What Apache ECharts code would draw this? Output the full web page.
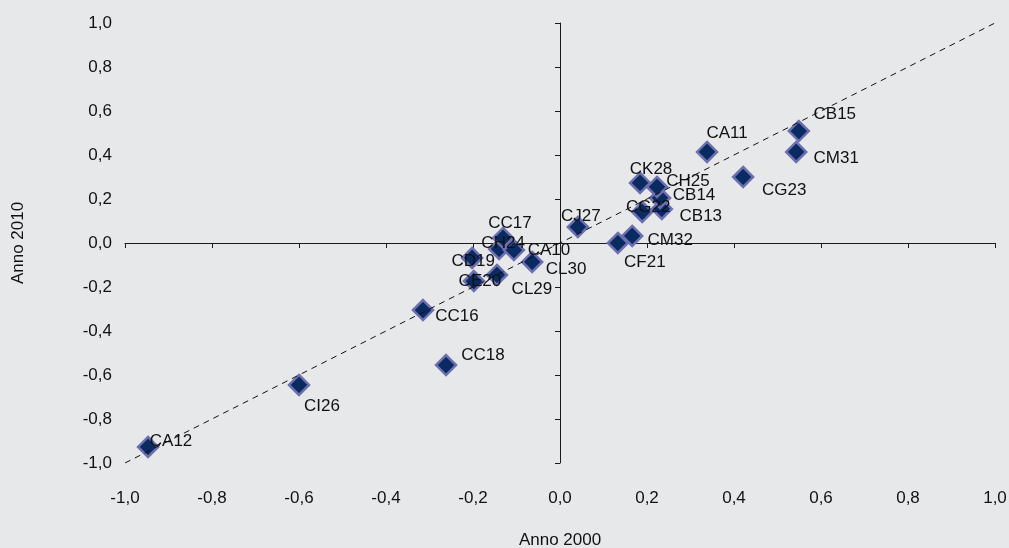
<!DOCTYPE html>
<html>
<head>
<meta charset="utf-8">
<script src="https://cdn.jsdelivr.net/npm/echarts@6/dist/echarts.min.js"></script>
<style>
html,body{margin:0;padding:0;background:#e7e8ea;}
#c{width:1009px;height:548px;}
</style>
</head>
<body>
<div id="c"></div>
<script>
// ---- data ----
const pointNames = ['CA12','CI26','CC16','CC18','CE20','CD19','CH24','CC17','CA10','CL30','CL29','CJ27','CF21','CM32','CG22','CB13','CB14','CH25','CK28','CA11','CG23','CB15','CM31'];
const anno2000 = [-0.947,-0.600,-0.315,-0.262,-0.198,-0.202,-0.140,-0.131,-0.106,-0.064,-0.145,0.041,0.133,0.166,0.189,0.234,0.230,0.223,0.184,0.338,0.421,0.549,0.543];
const anno2010 = [-0.927,-0.645,-0.305,-0.555,-0.173,-0.068,-0.027,0.023,-0.032,-0.086,-0.145,0.073,0.000,0.032,0.141,0.155,0.205,0.255,0.273,0.414,0.300,0.509,0.414];
const diagonalX = [-1, 1];
const diagonalY = [-1, 1];
const axisMin = -1, axisMax = 1, axisStep = 0.2;
const xAxisTitle = 'Anno 2000';
const yAxisTitle = 'Anno 2010';

// label placement (pixel offsets of each label's centre from its marker)
const labelOffsets = [[23,-6],[23,21],[34,6],[37,-10],[6,0],[1,3],[4,-6],[7,-15],[35,0],[34,7],[35,14],[3,-11],[27,19],[38,4],[6,-5],[39,7],[34,-3],[31,-6],[11,-14],[20,-19],[41,13],[36,-17],[40,6]];

const fmt = v => v.toFixed(1).replace('.', ',');
const font = 'Liberation Sans, Arial, sans-serif';
const fs = 17;

const chart = echarts.init(document.getElementById('c'), null, {renderer:'canvas'});
chart.setOption({
  backgroundColor: '#e7e8ea',
  animation: false,
  textStyle: {fontFamily: font},
  grid: {left:125, right:14, top:23, bottom:85, containLabel:false, outerBoundsMode:'none'},
  xAxis: [
    {type:'value', min:axisMin, max:axisMax, interval:axisStep, position:'bottom',
     axisLine:{show:true, onZero:true, lineStyle:{color:'#1a1a1a', width:1}},
     axisTick:{show:true, inside:false, length:5, lineStyle:{color:'#1a1a1a'}},
     axisLabel:{show:false}, splitLine:{show:false}},
    {type:'value', min:axisMin, max:axisMax, interval:axisStep, position:'bottom',
     axisLine:{show:false, onZero:false}, axisTick:{show:false}, splitLine:{show:false},
     axisLabel:{show:true, margin:27, formatter:fmt, color:'#111', fontSize:fs, fontFamily:font},
     name:xAxisTitle, nameLocation:'middle', nameGap:69,
     nameTextStyle:{color:'#111', fontSize:fs, fontFamily:font}}
  ],
  yAxis: [
    {type:'value', min:axisMin, max:axisMax, interval:axisStep, position:'left',
     axisLine:{show:true, onZero:true, lineStyle:{color:'#1a1a1a', width:1}},
     axisTick:{show:true, inside:false, length:5, lineStyle:{color:'#1a1a1a'}},
     axisLabel:{show:false}, splitLine:{show:false}},
    {type:'value', min:axisMin, max:axisMax, interval:axisStep, position:'left',
     axisLine:{show:false, onZero:false}, axisTick:{show:false}, splitLine:{show:false},
     axisLabel:{show:true, margin:13, formatter:fmt, color:'#111', fontSize:fs, fontFamily:font},
     name:yAxisTitle, nameLocation:'middle', nameGap:98, nameRotate:90,
     nameTextStyle:{color:'#111', fontSize:fs, fontFamily:font}}
  ],
  series: [
    {type:'scatter', xAxisIndex:0, yAxisIndex:0, symbol:'diamond', symbolSize:20, z:2,
     itemStyle:{color:'#0a2a62', borderColor:'#6d6fae', borderWidth:2.5, opacity:1},
     label:{show:true, position:'inside', formatter:p=>p.name, color:'#111', fontSize:fs, fontFamily:font},
     emphasis:{disabled:true},
     data: pointNames.map((n,i)=>({name:n, value:[anno2000[i], anno2010[i]], label:{offset:labelOffsets[i]}}))},
    {type:'line', xAxisIndex:0, yAxisIndex:0, z:5, symbol:'none', silent:true,
     lineStyle:{color:'#111', width:1, type:[6,5]},
     data: diagonalX.map((x,i)=>[x, diagonalY[i]])}
  ]
});
</script>
</body>
</html>
